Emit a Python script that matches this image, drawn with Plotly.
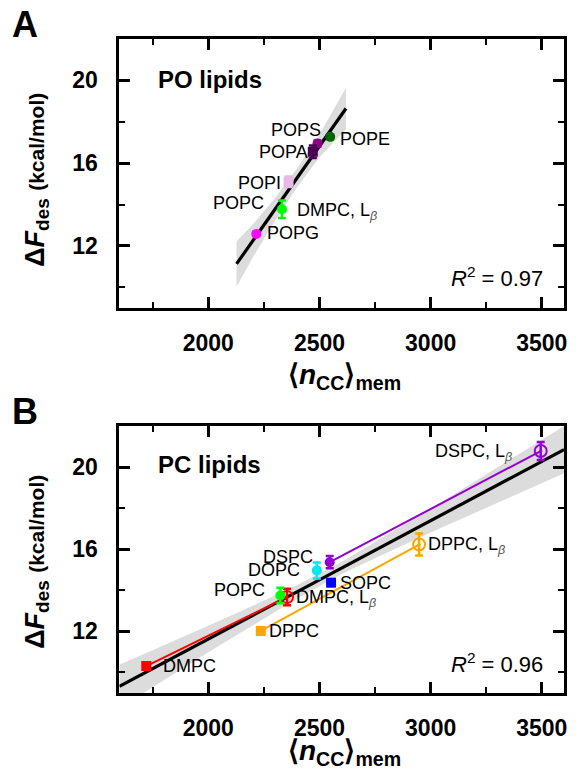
import plotly.graph_objects as go

# ---------------- Panel A data (PO lipids) ----------------
a_names = ["POPE", "POPS", "POPA", "POPI", "POPC", "POPG"]
a_x = [2548, 2491, 2470, 2361, 2331, 2216]
a_y = [17.27, 16.95, 16.55, 15.10, 13.77, 12.58]
a_err = [0.10, 0.15, 0.30, 0.25, 0.42, 0.10]
a_colors = ["#006400", "#8B008B", "#4B0050", "#E8B8E8", "#00FF00", "#FF00FF"]
a_symbols = ["circle", "circle", "square", "square", "circle", "circle"]

a_fit_x = [2127, 2619]
a_fit_y = [11.13, 18.64]
a_band_x = [2127, 2200, 2300, 2400, 2500, 2619]
a_band_hi = [12.23, 13.04, 14.32, 15.75, 17.38, 19.64]
a_band_lo = [10.03, 11.44, 13.22, 14.85, 16.28, 17.64]

# ---------------- Panel B data (PC lipids) ----------------
b_names = ["DMPC", "DMPC, L\u03b2", "POPC", "DPPC", "DOPC", "DSPC", "SOPC", "DPPC, L\u03b2", "DSPC, L\u03b2"]
b_x = [1721, 2354, 2324, 2236, 2488, 2546, 2552, 2948, 3495]
b_y = [10.31, 13.67, 13.75, 12.02, 14.97, 15.37, 14.37, 16.23, 20.78]
b_err = [0.10, 0.40, 0.38, 0.10, 0.39, 0.30, 0.10, 0.53, 0.44]
b_colors = ["#FF0000", "#FF0000", "#00FF00", "#FFA500", "#00E8F0", "#9400D3", "#0000FF", "#FFA500", "#9400D3"]
b_symbols = ["square", "circle-open-dot", "circle", "square", "circle", "circle", "square",
             "circle-open-dot", "circle-open-dot"]
# gel-phase connections (fluid -> L_beta)
b_links = [(0, 1, "#FF0000"), (3, 7, "#FFA500"), (5, 8, "#9400D3")]

b_fit_x = [1600, 3600]
b_fit_y = [9.32, 20.85]
b_band_x = [1600, 1800, 2000, 2200, 2400, 2600, 2800, 3000, 3200, 3400, 3600]
b_band_hi = [10.38, 11.32, 12.28, 13.25, 14.26, 15.39, 16.66, 17.97, 19.31, 20.65, 22.0]
b_band_lo = [8.26, 9.62, 10.98, 12.31, 13.60, 14.79, 15.82, 16.81, 17.79, 18.75, 19.70]

x_ticks = [2000, 2500, 3000, 3500]
y_ticks = [12, 16, 20]

FONT = "Liberation Sans, Arial, Helvetica, sans-serif"
W, H = 579, 773

fig = go.Figure()


def add_panel(xa, ya, bx, bhi, blo, fx, fy):
    fig.add_trace(go.Scatter(
        x=bx + bx[::-1], y=bhi + blo[::-1], fill="toself", mode="lines",
        line=dict(width=0), fillcolor="#DCDCDC", hoverinfo="skip", showlegend=False,
        xaxis=xa, yaxis=ya))
    fig.add_trace(go.Scatter(
        x=fx, y=fy, mode="lines", line=dict(color="black", width=3.2),
        showlegend=False, xaxis=xa, yaxis=ya))


add_panel("x", "y", a_band_x, a_band_hi, a_band_lo, a_fit_x, a_fit_y)
add_panel("x2", "y2", b_band_x, b_band_hi, b_band_lo, b_fit_x, b_fit_y)

for i0, i1, c in b_links:
    fig.add_trace(go.Scatter(x=[b_x[i0], b_x[i1]], y=[b_y[i0], b_y[i1]], mode="lines",
                             line=dict(color=c, width=2), showlegend=False,
                             xaxis="x2", yaxis="y2"))


def add_points(xs, ys, errs, cols, syms, xa, ya):
    for x, y, e, c, s in zip(xs, ys, errs, cols, syms):
        open_ = "open" in s
        fig.add_trace(go.Scatter(
            x=[x], y=[y], mode="markers",
            marker=dict(symbol=s, size=12 if open_ else 10, color=c,
                        line=dict(color=c, width=2 if open_ else 0)),
            error_y=dict(type="data", array=[e], color=c, thickness=2.5, width=4),
            showlegend=False, xaxis=xa, yaxis=ya))


add_points(a_x, a_y, a_err, a_colors, a_symbols, "x", "y")
add_points(b_x, b_y, b_err, b_colors, b_symbols, "x2", "y2")

# ---------------- point labels ----------------
a_label_pos = [(2582, 17.19, "left"), (2515, 17.59, "right"), (2457, 16.54, "right"),
               (2336, 15.04, "right"), (2260, 14.07, "right"), (2255, 12.63, "left")]
b_label_pos = [(1785, 10.30, "left"), (2385, 13.61, "left"), (2264, 14.00, "right"),
               (2264, 12.01, "left"), (2421, 14.97, "right"), (2479, 15.62, "right"),
               (2582, 14.34, "left"), (2980, 16.18, "left"), (3374, 20.72, "right")]

annotations = []


def fmt(name):
    if ", L\u03b2" in name:
        base = name.replace(", L\u03b2", "")
        return base + ", L<sub><i><span style='color:#555'>\u03b2</span></i></sub>"
    return name


def lab(text, x, y, anchor, xr, yr):
    annotations.append(dict(text=text, x=x, y=y, xref=xr, yref=yr, xanchor=anchor,
                            yanchor="middle", showarrow=False,
                            font=dict(family=FONT, size=18, color="black")))


for n, (x, y, an) in zip(a_names, a_label_pos):
    lab(n, x, y, an, "x", "y")
lab(fmt("DMPC, L\u03b2"), 2389, 13.65, "left", "x", "y")
for n, (x, y, an) in zip(b_names, b_label_pos):
    lab(fmt(n), x, y, an, "x2", "y2")


def px(xp):
    return xp / W


def py(yp):
    return 1 - yp / H


# panel letters, titles, R^2
for t, xx, yy in [("A", 25, 25), ("B", 25, 411)]:
    annotations.append(dict(text="<b>%s</b>" % t, x=px(xx), y=py(yy), xref="paper", yref="paper",
                            xanchor="center", yanchor="middle", showarrow=False,
                            font=dict(family=FONT, size=36, color="black")))
for t, yy in [("PO lipids", 79), ("PC lipids", 464)]:
    annotations.append(dict(text="<b>%s</b>" % t, x=px(157), y=py(yy), xref="paper", yref="paper",
                            xanchor="left", yanchor="middle", showarrow=False,
                            font=dict(family=FONT, size=24, color="black")))
for t, yy in [("0.97", 277), ("0.96", 663)]:
    annotations.append(dict(text="<i>R</i><sup>2</sup> = " + t, x=px(548), y=py(yy),
                            xref="paper", yref="paper", xanchor="right", yanchor="middle",
                            showarrow=False, font=dict(family=FONT, size=22, color="black")))

xtitle = "<b>\u27e8<i>n</i><sub>CC</sub>\u27e9<sub>mem</sub></b>"
for yy in [376, 752]:
    annotations.append(dict(text=xtitle, x=px(346), y=py(yy), xref="paper", yref="paper",
                            xanchor="center", yanchor="middle", showarrow=False,
                            font=dict(family=FONT, size=28, color="black")))
ytitle = "<b>\u0394<i>F</i><sub>des</sub> <span style='font-size:21px'>(kcal/mol)</span></b>"
for yy in [180, 562]:
    annotations.append(dict(text=ytitle, x=px(37), y=py(yy), xref="paper", yref="paper",
                            xanchor="center", yanchor="middle", textangle=-90, showarrow=False,
                            font=dict(family=FONT, size=27, color="black")))

xdom = [px(120), px(567)]


def xaxis(anchor):
    return dict(domain=xdom, range=[1600, 3600], anchor=anchor, tickmode="array",
                tickvals=x_ticks, ticks="inside", ticklen=11, tickwidth=2.5, tickcolor="black",
                mirror="allticks", showline=True, linewidth=3, linecolor="black",
                showgrid=False, zeroline=False, ticklabelstandoff=12,
                tickfont=dict(family=FONT, size=23, color="black", weight="bold"),
                minor=dict(ticks="inside", ticklen=6, tickwidth=2, tickcolor="black",
                           tickvals=[1750, 2250, 2750, 3250], showgrid=False))


def yaxis(anchor, dom, rng):
    return dict(domain=dom, range=rng, anchor=anchor, tickmode="array", tickvals=y_ticks,
                ticks="inside", ticklen=11, tickwidth=2.5, tickcolor="black",
                mirror="allticks", showline=True, linewidth=3, linecolor="black",
                showgrid=False, zeroline=False, ticklabelstandoff=14,
                tickfont=dict(family=FONT, size=23, color="black", weight="bold"),
                minor=dict(ticks="inside", ticklen=6, tickwidth=2, tickcolor="black",
                           tickvals=[10, 14, 18], showgrid=False))


fig.update_layout(
    width=W, height=H, margin=dict(l=0, r=0, t=0, b=0),
    paper_bgcolor="white", plot_bgcolor="white",
    xaxis=xaxis("y"), yaxis=yaxis("x", [py(308), py(39)], [9, 22]),
    xaxis2=xaxis("y2"), yaxis2=yaxis("x2", [py(693), py(426)], [9, 22]),
    annotations=annotations, showlegend=False,
)

fig.write_html("out.html", config={"displayModeBar": False},
               post_script="document.body.style.margin='0';document.body.style.overflow='hidden';")
